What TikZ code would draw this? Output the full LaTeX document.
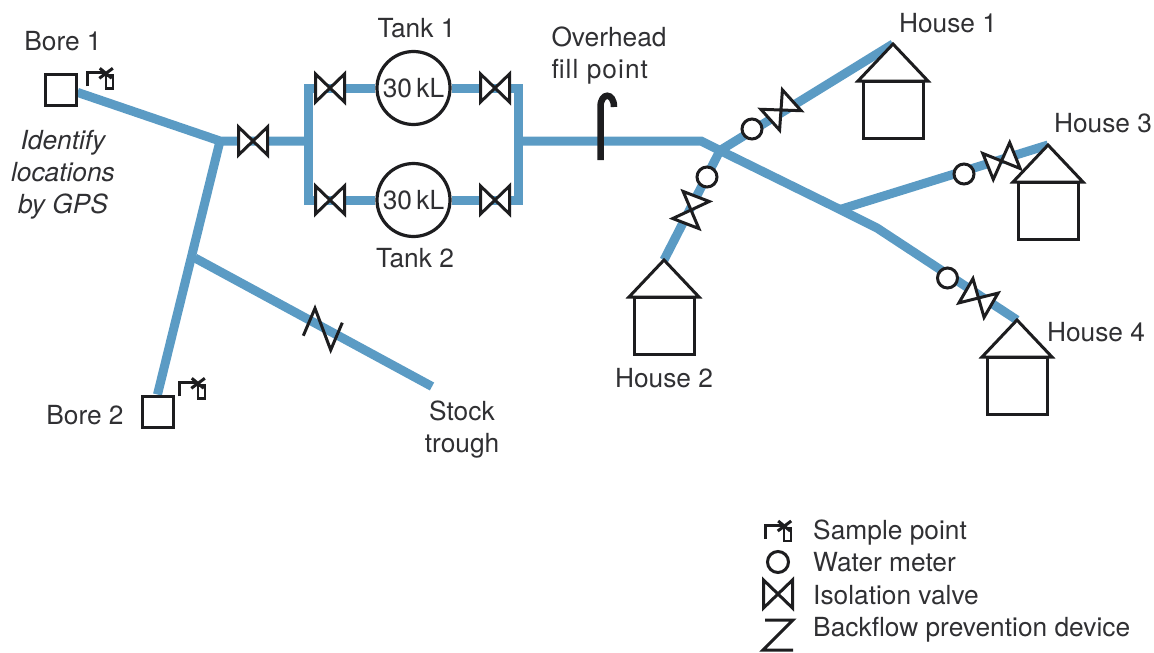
\documentclass[tikz,border=0pt]{standalone}
\usepackage{fontspec}
\setmainfont{TeX Gyre Heros}
\usetikzlibrary{positioning, backgrounds}

\definecolor{pipeblue}{HTML}{5B9BC4}
\definecolor{inkblack}{HTML}{1D1D1F}
\definecolor{textgrey}{HTML}{303033}

\tikzset{
    pipe/.style={draw=pipeblue, line width=9pt, line join=miter},
    symbol/.style={draw=inkblack, line width=3pt, line join=miter},
    txt/.style={font=\fontsize{26.3}{32}\selectfont, text=textgrey, inner sep=0pt, align=center},
    tank/.style={symbol, circle, fill=white, minimum size=73pt, inner sep=0pt, line width=3.2pt, txt},
    bore/.style={symbol, rectangle, fill=white, minimum size=31pt, inner sep=0pt},
    meter/.style={symbol, circle, fill=white, minimum size=20pt, inner sep=0pt},
    valve/.pic={
        \path[symbol, fill=white] (-14.5,-14) -- (14.5,14) -- (14.5,-14) -- (-14.5,14) -- cycle;
    },
    house/.pic={
        \coordinate (-top) at (0,0);
        \path[symbol, fill=white] (-30,37) rectangle (30,94);
        \path[symbol, fill=white] (0,0) -- (35,37) -- (-35,37) -- cycle;
    },
    sample/.pic={
        \path[symbol] (0,14) -- (0,0) -- (17,0);
        \path[symbol, line width=2.5pt, fill=white] (18.5,3) rectangle (25.5,16);
        \path[symbol] (12.5,-4) -- (24.5,6);
        \path[symbol] (25.5,-4) -- (12,6);
    }
}

\begin{document}
\begin{tikzpicture}[x=1pt, y=-1pt, node distance=12pt]
    \useasboundingbox (0,0) rectangle (1154,653);

    % Sources and tanks
    \node[bore] (bore1) at (60.5,90) {};
    \node[bore] (bore2) at (157.5,411.5) {};
    \node[tank] (tank1) at (413.5,88) {30\,kL};
    \node[tank] (tank2) at (413.5,200) {30\,kL};

    % Junctions and bends
    \coordinate (joinA) at (220,141);
    \coordinate (joinB) at (195,258);
    \coordinate (trough) at (432,386.5);
    \coordinate (busLtop) at (308.5,88);
    \coordinate (busLmid) at (308.5,141);
    \coordinate (busLbot) at (308.5,200);
    \coordinate (busRtop) at (518,88);
    \coordinate (busRmid) at (518,141);
    \coordinate (busRbot) at (518,200);
    \coordinate (bendA) at (701,141);
    \coordinate (joinC) at (720,150.5);
    \coordinate (joinD) at (840,209.5);
    \coordinate (bendB) at (877,228);

    % Houses
    \pic (house1) at (893,44) {house};
    \pic (house2) at (664,260) {house};
    \pic (house3) at (1048,145) {house};
    \pic (house4) at (1017,320) {house};

    % Meters
    \node[meter] (meter1) at (752,129) {};
    \node[meter] (meter2) at (707,177) {};
    \node[meter] (meter3) at (964,174) {};
    \node[meter] (meter4) at (947.5,278) {};

    % Valves
    \pic at (253,141) {valve};
    \pic at (330,88) {valve};
    \pic at (495,88) {valve};
    \pic at (330,200) {valve};
    \pic at (495,200) {valve};
    \pic[rotate=42] at (781,110) {valve};
    \pic[rotate=69] at (691,210) {valve};
    \pic[rotate=22] at (1001.5,161) {valve};
    \pic[rotate=-30] at (978.5,298) {valve};

    % Sample points
    \pic at (87.3,72.3) {sample};
    \pic at (179.3,382.3) {sample};

    % Backflow device on the trough line
    \path[symbol] (303.3,335.7) -- (315,308.3) -- (330.7,350) -- (342.3,322.7);

    % Overhead fill point
    \coordinate (fillbase) at (600.5,160);
    \coordinate (fillneck) at (600.5,107);
    \coordinate (fillend) at (614,107);
    \draw[draw=inkblack, line width=6.5pt] (fillbase) -- (fillneck)
        .. controls (600.5,92) and (614,92) .. (fillend);

    % Pipes
    \begin{scope}[on background layer]
        \draw[pipe] (bore1.-8) -- (joinA) -- (busLmid);
        \draw[pipe] (bore2.north) -- (joinA);
        \draw[pipe] (joinB) -- (trough);
        \draw[pipe] (tank1) -- (busLtop) -- (busLbot) -- (tank2);
        \draw[pipe] (tank1) -- (busRtop) -- (busRbot) -- (tank2);
        \draw[pipe] (busRmid) -- (bendA) -- (joinC) -- (joinD) -- (bendB) -- (house4-top);
        \draw[pipe] (joinC) -- (house1-top);
        \draw[pipe] (joinC) -- (house2-top);
        \draw[pipe] (joinD) -- (house3-top);
    \end{scope}

    % Labels
    \node[txt, anchor=base] (bore1txt) at (63,50.7) {Bore 1};
    \node[txt] (gpstxt) at (63,175) {\itshape Identify\\ \itshape locations\\ \itshape by GPS};
    \node[txt, anchor=base] (bore2txt) at (85,424) {Bore 2};
    \node[txt, above=of tank1, xshift=3pt] (tank1txt) {Tank 1};
    \node[txt, below=10pt of tank2, xshift=1.5pt] (tank2txt) {Tank 2};
    \node[txt, align=left] (filltxt) at (609,56) {Overhead\\{\addfontfeature{LetterSpace=4}fill point}};
    \node[txt] (troughtxt) at (462,430) {Stock\\trough};
    \node[txt, anchor=base] (house1txt) at (948,32) {House 1};
    \node[txt, anchor=base] (house2txt) at (664,387) {House 2};
    \node[txt, anchor=base] (house3txt) at (1103,132) {House 3};
    \node[txt, anchor=base] (house4txt) at (1096,341) {House 4};

    % Legend
    \pic at (765.7,525) {sample};
    \node[meter, minimum size=21pt] (keymeter) at (778,562) {};
    \pic at (778,594) {valve};
    \path[symbol] (765,620) -- (793,620) -- (763,650) -- (793,650);
    \node[txt, anchor=base west] (keysample) at (813,539) {Sample point};
    \node[txt, anchor=base west] (keymetertxt) at (813,571) {Water meter};
    \node[txt, anchor=base west] (keyvalve) at (813,604) {Isolation valve};
    \node[txt, anchor=base west] (keyback) at (813,636) {Backflow prevention device};
\end{tikzpicture}
\end{document}
